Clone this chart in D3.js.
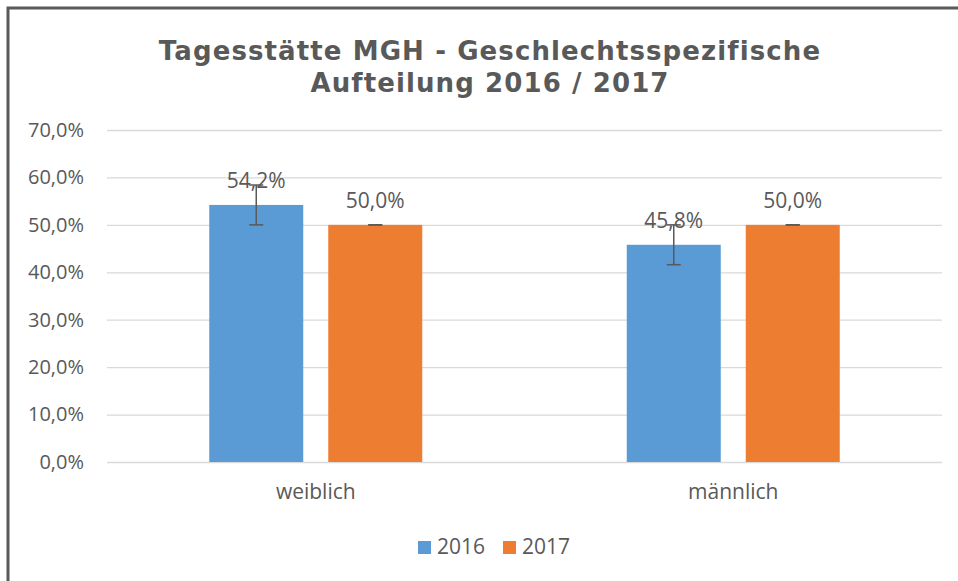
<!DOCTYPE html>
<html><head><meta charset="utf-8">
<script src="https://cdn.jsdelivr.net/npm/d3@7"></script>
<style>html,body{margin:0;padding:0;background:#fff;}</style>
</head><body>
<svg id="c" width="958" height="581"></svg>
<script>
const categories = ["weiblich", "männlich"];
const seriesNames = ["2016", "2017"];
const values2016 = [54.2, 45.8];
const values2017 = [50.0, 50.0];
const errors2016 = [4.2, 4.2];
const errors2017 = [0, 0];
const yTicks = [0, 10, 20, 30, 40, 50, 60, 70];
const colors = ["#5B9BD5", "#ED7D31"];
const titleLines = ["Tagesstätte MGH - Geschlechtsspezifische", "Aufteilung 2016 / 2017"];

const svg = d3.select("#c");
const textColor = "#595959";
const font = "'Open Sans', 'Noto Sans', sans-serif";

// border
svg.append("path").attr("d", "M8,581 L8,8 L958,8").attr("fill", "none")
  .attr("stroke", "#5a5a5a").attr("stroke-width", 3);

// title
svg.append("g").selectAll("text").data(titleLines).join("text")
  .attr("x", 490).attr("y", (d, i) => 60 + i * 32)
  .attr("text-anchor", "middle")
  .attr("font-family", "'DejaVu Sans', Verdana, sans-serif")
  .attr("font-weight", "bold").attr("font-size", 26).attr("letter-spacing", 1.1)
  .attr("fill", textColor).text(d => d);

const x0 = d3.scaleBand().domain(categories).range([107, 942]);
const y = d3.scaleLinear().domain([0, 70]).range([462, 130]);

// bar geometry within group
const barW = 94, gap = 25;
const groupW = barW * 2 + gap;
const step = barW + gap;
const gStart = (x0.bandwidth() - groupW) / 2;
const x1 = d3.scaleBand().domain(seriesNames)
  .range([gStart, gStart + groupW])
  .paddingInner(gap / step).paddingOuter(0);

// grid
const yAxis = d3.axisLeft(y).tickValues(yTicks).tickSize(-(942 - 107))
  .tickFormat(d => d3.format(".1f")(d).replace(".", ",") + "%");
const gy = svg.append("g").attr("transform", "translate(107,0)").call(yAxis);
gy.select(".domain").remove();
gy.selectAll(".tick line").attr("stroke", "#d9d9d9").attr("stroke-width", 1.3);
gy.selectAll(".tick text").attr("x", -23).attr("fill", textColor)
  .attr("font-family", font).attr("font-size", 20);

const xAxis = d3.axisBottom(x0).tickSize(0).tickPadding(22);
const gx = svg.append("g").attr("transform", "translate(0,462)").call(xAxis);
gx.select(".domain").remove();
gx.selectAll(".tick text").attr("fill", textColor).attr("font-family", font).attr("font-size", 21);

const data = categories.map((c, i) => ({
  cat: c,
  items: [
    {s: "2016", v: values2016[i], e: errors2016[i], c: colors[0]},
    {s: "2017", v: values2017[i], e: errors2017[i], c: colors[1]}
  ]
}));

const groups = svg.append("g").selectAll("g").data(data).join("g")
  .attr("transform", d => `translate(${x0(d.cat)},0)`);

groups.selectAll("rect").data(d => d.items).join("rect")
  .attr("x", d => x1(d.s)).attr("width", x1.bandwidth())
  .attr("y", d => y(d.v)).attr("height", d => y(0) - y(d.v))
  .attr("fill", d => d.c);

// error bars
const eb = groups.selectAll("g.eb").data(d => d.items).join("g").attr("class", "eb")
  .attr("stroke", "#595959").attr("stroke-width", 1.5);
eb.append("line").attr("x1", d => x1(d.s) + x1.bandwidth() / 2).attr("x2", d => x1(d.s) + x1.bandwidth() / 2)
  .attr("y1", d => y(d.v - d.e)).attr("y2", d => y(d.v + d.e));
[-1, 1].forEach(sgn => {
  eb.append("line")
    .attr("x1", d => x1(d.s) + x1.bandwidth() / 2 - 7).attr("x2", d => x1(d.s) + x1.bandwidth() / 2 + 7)
    .attr("y1", d => y(d.v + sgn * d.e)).attr("y2", d => y(d.v + sgn * d.e));
});

// labels
groups.selectAll("text.lbl").data(d => d.items).join("text").attr("class", "lbl")
  .attr("x", d => x1(d.s) + x1.bandwidth() / 2).attr("y", d => y(d.v) - 17)
  .attr("text-anchor", "middle").attr("fill", textColor)
  .attr("font-family", font).attr("font-size", 21)
  .text(d => d3.format(".1f")(d.v).replace(".", ",") + "%");

// legend
const lg = svg.append("g").selectAll("g").data(seriesNames).join("g")
  .attr("transform", (d, i) => `translate(${418 + i * 85},541)`);
lg.append("rect").attr("width", 13).attr("height", 13).attr("fill", (d, i) => colors[i]);
lg.append("text").attr("x", 19).attr("y", 13).attr("fill", textColor)
  .attr("font-family", font).attr("font-size", 21).text(d => d);
</script>
</body></html>
